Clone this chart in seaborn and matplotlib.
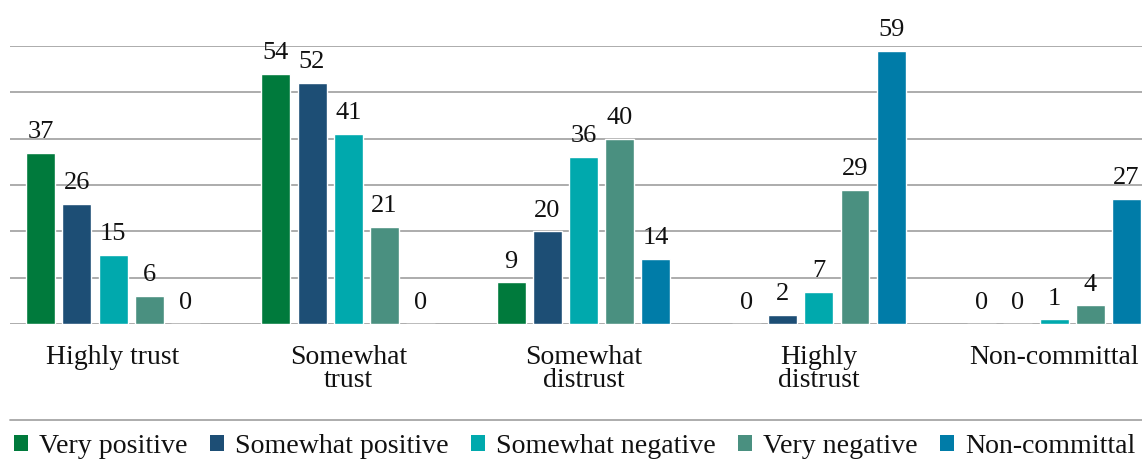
import matplotlib
matplotlib.use("Agg")
import matplotlib.pyplot as plt
from matplotlib.lines import Line2D
from matplotlib.patches import Patch
import seaborn as sns
import pandas as pd

# Trust level (x-axis groups) and perception series
categories = ["Highly trust", "Somewhat\ntrust", "Somewhat\ndistrust", "Highly\ndistrust", "Non-committal"]
series = ["Very positive", "Somewhat positive", "Somewhat negative", "Very negative", "Non-committal"]

very_positive = [37, 54, 9, 0, 0]
somewhat_positive = [26, 52, 20, 2, 0]
somewhat_negative = [15, 41, 36, 7, 1]
very_negative = [6, 21, 40, 29, 4]
non_committal = [0, 0, 14, 59, 27]

colors = ["#007A3C", "#1D4E75", "#00A9AD", "#4A9080", "#007CA8"]

values = [very_positive, somewhat_positive, somewhat_negative, very_negative, non_committal]
rows = []
for s, vals in zip(series, values):
    for c, v in zip(categories, vals):
        rows.append({"category": c, "series": s, "value": v})
df = pd.DataFrame(rows)

sns.set_theme(style="white")
plt.rcParams["font.family"] = ["Liberation Serif", "DejaVu Serif"]

W, H = 1142, 461
fig = plt.figure(figsize=(W / 100, H / 100), dpi=100)
ax = fig.add_axes([10 / W, (H - 324) / H, (W - 10) / W, (324 - 46) / H])

sns.barplot(data=df, x="category", y="value", hue="series", order=categories,
            hue_order=series, palette=colors, width=0.77, gap=0.2,
            saturation=1, ax=ax, legend=False)

for cont in ax.containers:
    ax.bar_label(cont, fmt="%d", padding=7, fontsize=19, color="#111111")

ax.set_ylim(0, 60)
ax.set_xlim(-0.438, 4.374)
ax.set_yticks(range(0, 61, 10))
ax.yaxis.grid(True, color="#A6A6A6", linewidth=1.3)
ax.set_axisbelow(True)
ax.tick_params(axis="y", left=False, labelleft=False)
ax.tick_params(axis="x", bottom=False, pad=9, labelsize=20, labelcolor="#111111")
for lbl in ax.get_xticklabels():
    lbl.set_linespacing(0.92)
    lbl.set_verticalalignment("top")
for sp in ax.spines.values():
    sp.set_visible(False)
ax.set_xlabel("")
ax.set_ylabel("")

# separator above the legend
fig.add_artist(Line2D([10 / W, 1.0], [(H - 420) / H] * 2, color="#A6A6A6", linewidth=1.3,
                      transform=fig.transFigure))

handles = [Patch(facecolor=c, edgecolor="none") for c in colors]
fig.legend(handles, series, loc="center left", bbox_to_anchor=(14 / W, (H - 446) / H),
           ncol=5, frameon=False, fontsize=20.1, handlelength=0.5, handleheight=0.5,
           handletextpad=0.38, columnspacing=0.82, borderaxespad=0, borderpad=0,
           labelcolor="#111111")

fig.savefig("out.png", dpi=100)
